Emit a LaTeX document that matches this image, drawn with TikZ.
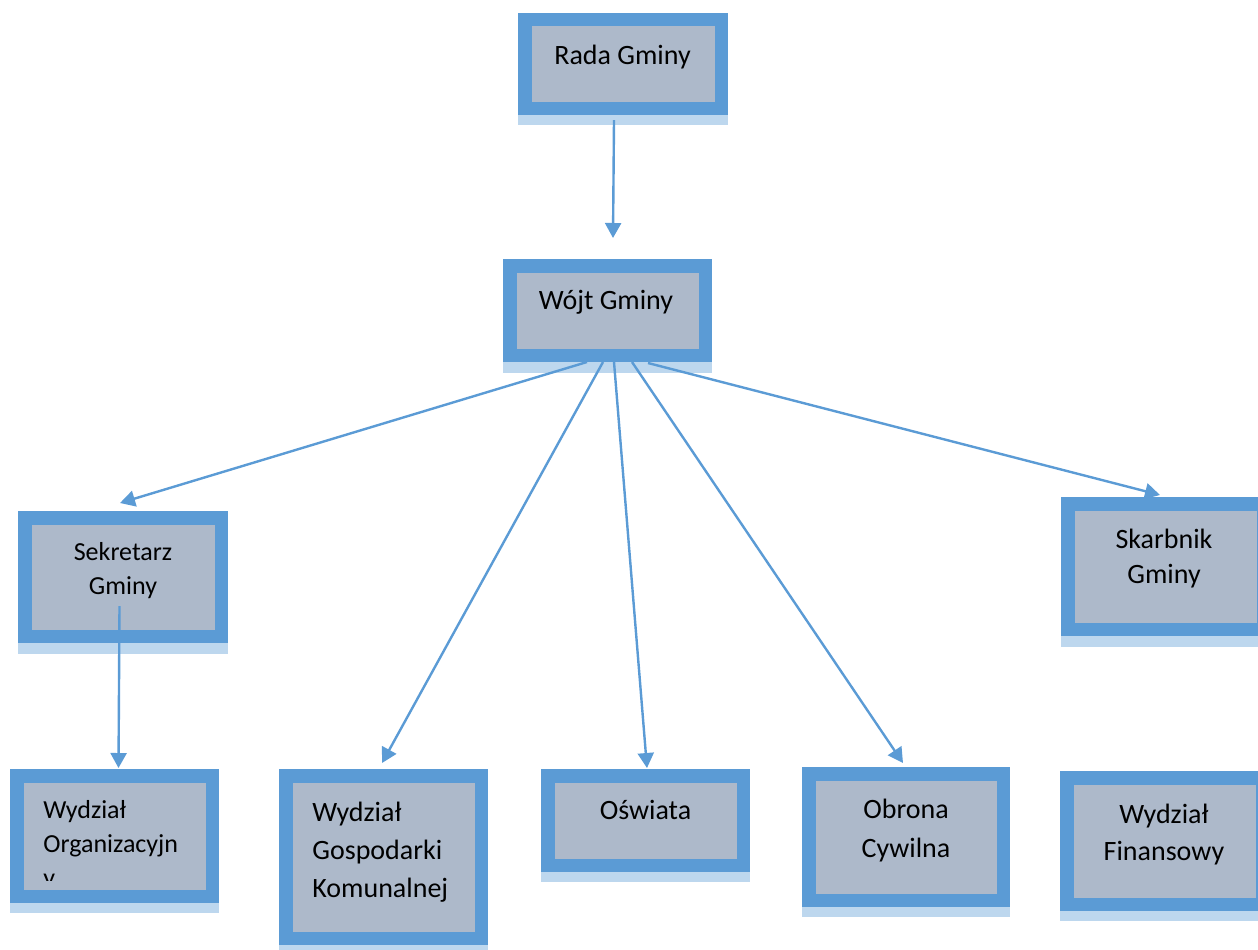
\documentclass[tikz,border=0pt]{standalone}
\usepackage{fontspec}
\setmainfont{Carlito}
\usetikzlibrary{arrows.meta,calc}

\definecolor{boxblue}{HTML}{5B9BD5}
\definecolor{boxgrey}{HTML}{ADB9CA}
\definecolor{stripblue}{HTML}{BDD7EE}

\begin{document}
\begin{tikzpicture}[x=0.5pt,y=-0.5pt,
    orgbox/.style={draw=boxblue, fill=boxgrey, line width=6.75pt, outer sep=3.375pt,
        inner sep=0pt, minimum width=97.75pt},
    strip/.style={fill=stripblue},
    boxtext/.style={inner sep=0pt, align=center, anchor=base, font=\fontsize{14}{19}\selectfont},
    link/.style={draw=boxblue, line width=1.2pt, -{Triangle[length=7.5pt,width=8pt]}}
]
\useasboundingbox (0,0) rectangle (1258,949);

% boxes
\node[orgbox, minimum width=98.25pt, minimum height=44.4pt] (rada) at (623,63.9) {};
\node[orgbox, minimum height=44.75pt] (wojt) at (607.5,310.5) {};
\node[orgbox, minimum width=98.25pt, minimum height=59.25pt] (sekretarz) at (123,577) {};
\node[orgbox, minimum height=62.75pt] (skarbnik) at (1165.5,566.5) {};
\node[orgbox, minimum height=60.25pt] (organizacyjny) at (114.5,836) {};
\node[orgbox, minimum height=81.25pt] (gospodarka) at (383.5,857) {};
\node[orgbox, minimum height=44.75pt] (oswiata) at (645.5,820.5) {};
\node[orgbox, minimum width=97.25pt, minimum height=63.25pt] (obrona) at (906,837) {};
\node[orgbox, minimum height=63.25pt] (finanse) at (1164.5,841) {};

% light strips under the boxes
\fill[strip] (rada.south west) rectangle ($(rada.south east)+(0,10)$);
\fill[strip] (wojt.south west) rectangle ($(wojt.south east)+(0,11)$);
\fill[strip] (sekretarz.south west) rectangle ($(sekretarz.south east)+(0,11)$);
\fill[strip] (skarbnik.south west) rectangle ($(skarbnik.south east)+(0,11)$);
\fill[strip] (organizacyjny.south west) rectangle ($(organizacyjny.south east)+(0,10)$);
\fill[strip] (gospodarka.south west) rectangle ($(gospodarka.south east)+(0,10)$);
\fill[strip] (oswiata.south west) rectangle ($(oswiata.south east)+(0,10)$);
\fill[strip] (obrona.south west) rectangle ($(obrona.south east)+(0,10)$);
\fill[strip] (finanse.south west) rectangle ($(finanse.south east)+(0,10)$);

% texts (base = last line)
\node[boxtext] (radatxt) at (622.5,64) {Rada Gminy};
\node[boxtext] (wojttxt) at (606,309) {Wójt Gminy};
\node[boxtext, font=\fontsize{13}{17}\selectfont] (sekretarztxt) at (123,594) {Sekretarz\\Gminy};
\node[boxtext, font=\fontsize{14}{17.5}\selectfont] (skarbniktxt) at (1164,583) {Skarbnik\\Gminy};
\begin{scope}
  \clip (23,783) rectangle (206,880);
  \node[boxtext, align=left, anchor=base west, font=\fontsize{13}{17}\selectfont] (organizacyjnytxt)
    at (43,886) {Wydział\\Organizacyjn\\y};
\end{scope}
\node[boxtext, align=left, anchor=base west] (gospodarkatxt) at (312,897) {Wydział\\Gospodarki\\Komunalnej};
\node[boxtext] (oswiatatxt) at (645.5,819) {Oświata};
\node[boxtext, font=\fontsize{14}{19.5}\selectfont] (obronatxt) at (906,857) {Obrona\\Cywilna};
\node[boxtext, font=\fontsize{14}{18.5}\selectfont] (finansetxt) at (1164,860) {Wydział\\Finansowy};

% connectors
\draw[link] ($(rada.south)+(-9,5)$) -- ($(wojt.north)+(5.5,-21)$);
\draw[link] ($(wojt.south)+(-20.5,0)$) -- ($(sekretarz.north)+(-3,-8)$);
\draw[link] ($(wojt.south)+(-4.5,0)$) -- ($(gospodarka.north)+(-1.5,-6)$);
\draw[link] ($(wojt.south)+(6.5,0)$) -- ($(oswiata.north)+(1.5,-1)$);
\draw[link] ($(wojt.south)+(24.5,0)$) -- ($(obrona.north)+(-3,-4)$);
\draw[link] ($(wojt.south)+(40.5,1)$) -- ($(skarbnik.north)+(-5.5,-2)$);
\draw[link] ($(sekretarz.center)+(-3.5,29)$) -- ($(organizacyjny.north)+(4,-1)$);
\end{tikzpicture}
\end{document}
